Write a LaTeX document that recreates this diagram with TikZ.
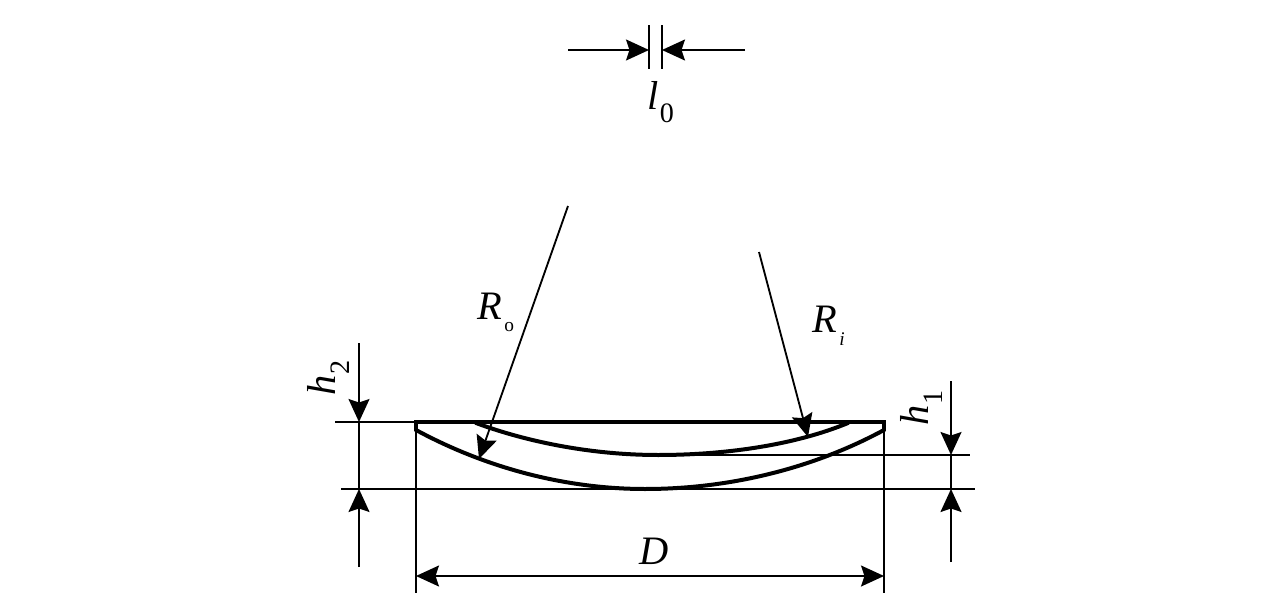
\documentclass[tikz,border=0pt]{standalone}
\usepackage{fontspec}
\setmainfont{Liberation Serif}
\usetikzlibrary{arrows.meta, positioning}

% letter, gap, drop of the index, index
\newcommand{\dimtext}[4]{{\fontsize{23}{25}\selectfont\itshape #1}\hspace{#2}\raisebox{#3}{#4}}
\newcommand{\midindex}[1]{\fontsize{16}{18}\selectfont #1}
\newcommand{\smallindex}[1]{\fontsize{11}{12}\selectfont #1}

\tikzset{
    thinline/.style={line width=0.037cm, black},
    thickline/.style={line width=0.08cm, black, line cap=round, line join=miter},
    dimarrow/.style={thinline, -{Stealth[length=0.46cm, width=0.42cm, inset=0.07cm]}},
    dimboth/.style={thinline, {Stealth[length=0.46cm, width=0.42cm, inset=0.07cm]}-{Stealth[length=0.46cm, width=0.42cm, inset=0.07cm]}},
    textlabel/.style={inner sep=0pt, outer sep=0pt, anchor=base west}
}

\begin{document}
\begin{tikzpicture}[x=0.02cm, y=-0.02cm]
    \useasboundingbox (0,0) rectangle (1276,595);

    % gap at the top
    \coordinate (gapleft) at (649,50);
    \coordinate (gapright) at (662,50);
    \coordinate (gapfromleft) at (568,50);
    \coordinate (gapfromright) at (745,50);
    \draw[thinline] (649,25) -- (649,69);
    \draw[thinline] (662,25) -- (662,69);
    \draw[dimarrow] (gapfromleft) -- (gapleft);
    \draw[dimarrow] (gapfromright) -- (gapright);
    \node[textlabel] (lzero) at (647,109) {\dimtext{l}{1pt}{-7.5pt}{\midindex{0}}};

    % corner points of the shell
    \coordinate (topleft) at (416,422);
    \coordinate (topright) at (884,422);
    \coordinate (edgeleft) at (416,430);
    \coordinate (edgeright) at (884,430);
    \coordinate (outerbottom) at (645,489);
    \coordinate (innerleft) at (476,423);
    \coordinate (innerright) at (848,423);
    \coordinate (innerbottom) at (658,455);

    % thin extension lines
    \draw[thinline] (335,422) -- (topleft);
    \draw[thinline] (341,489) -- (975,489);
    \draw[thinline] (innerbottom) -- (970,455);
    \draw[thinline] (topleft) -- (416,593);
    \draw[thinline] (topright) -- (884,593);

    % shell
    \draw[thickline] (edgeleft) -- (topleft) -- (topright) -- (edgeright);
    \draw[thickline] (edgeleft) .. controls (490,470) and (570,489) .. (outerbottom)
        .. controls (726,489) and (810,470) .. (edgeright);
    \draw[thickline] (innerleft) .. controls (530,443) and (595,455) .. (innerbottom)
        .. controls (725,455) and (795,445) .. (innerright);

    % radii
    \coordinate (rofrom) at (568,206);
    \coordinate (roto) at (479,459);
    \coordinate (rifrom) at (759,252);
    \coordinate (rito) at (808,437);
    \draw[dimarrow] (rofrom) -- (roto);
    \draw[dimarrow] (rifrom) -- (rito);
    \node[textlabel] (rolabel) at (477,319) {\dimtext{R}{1.5pt}{-7pt}{\smallindex{o}}};
    \node[textlabel] (rilabel) at (812,332) {\dimtext{R}{1.5pt}{-7.5pt}{\smallindex{\itshape i}}};

    % height on the left
    \coordinate (htwotop) at (359,343);
    \coordinate (htwobot) at (359,567);
    \draw[dimarrow] (htwotop) -- (359,422);
    \draw[thinline] (359,422) -- (359,489);
    \draw[dimarrow] (htwobot) -- (359,489);
    \node[textlabel, rotate=90] (htwo) at (335,395) {\dimtext{h}{0pt}{-8.5pt}{\midindex{2}}};

    % height on the right
    \coordinate (honetop) at (951,381);
    \coordinate (honebot) at (951,562);
    \draw[dimarrow] (honetop) -- (951,455);
    \draw[thinline] (951,455) -- (951,489);
    \draw[dimarrow] (honebot) -- (951,489);
    \node[textlabel, rotate=90] (hone) at (928,425) {\dimtext{h}{0pt}{-8.5pt}{\midindex{1}}};

    % diameter
    \coordinate (dleft) at (416,576);
    \coordinate (dright) at (884,576);
    \draw[dimboth] (dleft) -- (dright);
    \node[textlabel] (dlabel) at (639,564) {\dimtext{D}{0pt}{0pt}{}};
\end{tikzpicture}
\end{document}
